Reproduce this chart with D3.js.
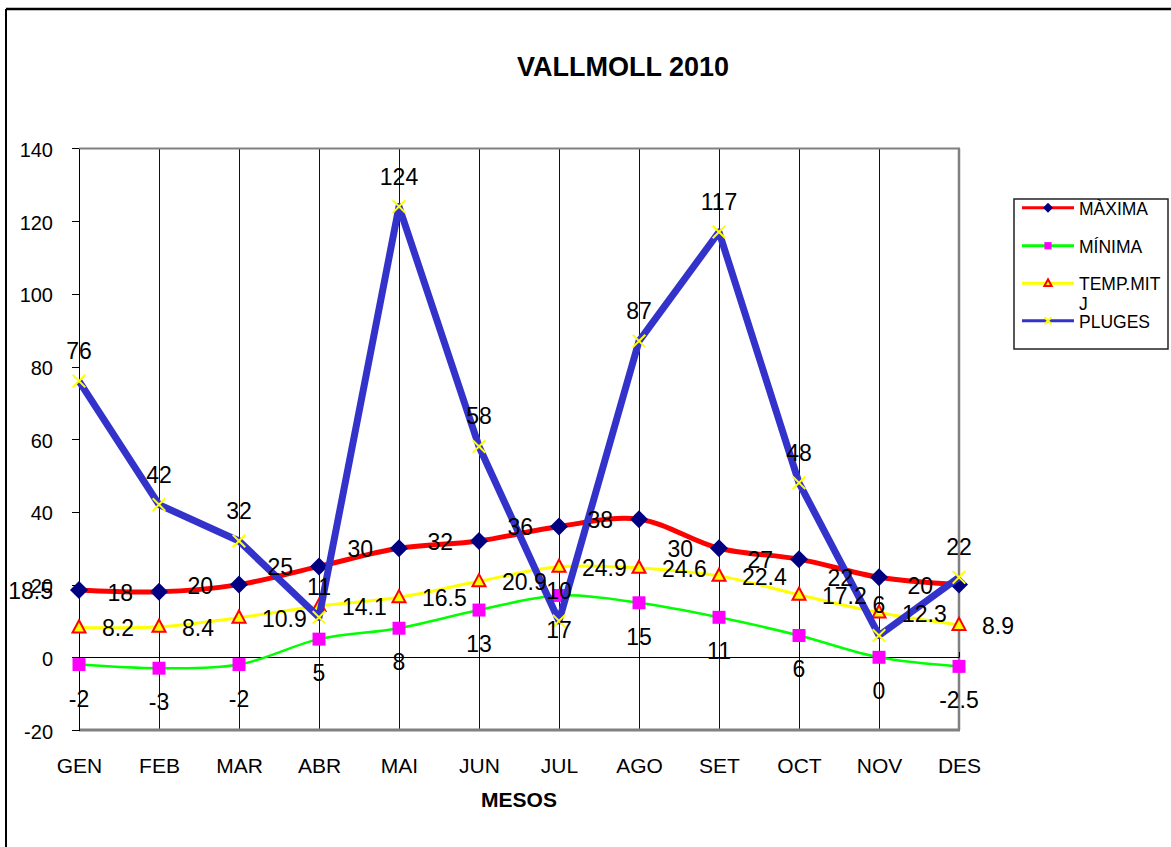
<!DOCTYPE html>
<html>
<head>
<meta charset="utf-8">
<script src="https://cdn.jsdelivr.net/npm/d3@7"></script>
<style>
  body { margin: 0; background: #fff; }
  text { font-family: "Liberation Sans", Arial, sans-serif; }
</style>
</head>
<body>
<svg id="chart" width="1171" height="847"></svg>
<script>
var months = ['GEN','FEB','MAR','ABR','MAI','JUN','JUL','AGO','SET','OCT','NOV','DES'];
var maxima = [18.5, 18, 20, 25, 30, 32, 36, 38, 30, 27, 22, 20];
var minima = [-2, -3, -2, 5, 8, 13, 17, 15, 11, 6, 0, -2.5];
var tempMitj = [8.2, 8.4, 10.9, 14.1, 16.5, 20.9, 24.9, 24.6, 22.4, 17.2, 12.3, 8.9];
var pluges = [76, 42, 32, 11, 124, 58, 10, 87, 117, 48, 6, 22];
var yTicks = [-20, 0, 20, 40, 60, 80, 100, 120, 140];

var width = 1171, height = 847;
var plot = { left: 79, right: 959, top: 148.4, bottom: 730 };

var svg = d3.select('#chart');

var x = d3.scalePoint().domain(months).range([plot.left, plot.right]);
var y = d3.scaleLinear().domain([-20, 140]).range([plot.bottom, plot.top]);

// outer chart border (only top and left visible)
svg.append('line').attr('x1', 6).attr('x2', width).attr('y1', 9).attr('y2', 9)
    .attr('stroke', '#000').attr('stroke-width', 2.5);
svg.append('line').attr('x1', 6).attr('x2', 6).attr('y1', 9).attr('y2', height)
    .attr('stroke', '#000').attr('stroke-width', 2);

// title
svg.append('text')
    .attr('x', 623).attr('y', 76)
    .attr('text-anchor', 'middle')
    .style('font-size', '27px').style('font-weight', 'bold')
    .text('VALLMOLL 2010');

// vertical gridlines
svg.append('g').selectAll('line')
    .data(months.slice(0, -1))
    .enter().append('line')
        .attr('x1', function(d){ return x(d) + 0.5; }).attr('x2', function(d){ return x(d) + 0.5; })
        .attr('y1', y(140)).attr('y2', y(-20))
        .attr('stroke', '#111').attr('stroke-width', 1)
        .attr('shape-rendering', 'crispEdges');

// plot area border (grey)
svg.append('line').attr('x1', plot.left).attr('x2', plot.right + 1).attr('y1', y(140)).attr('y2', y(140))
    .attr('stroke', '#808080').attr('stroke-width', 2);
svg.append('line').attr('x1', plot.right).attr('x2', plot.right).attr('y1', y(140)).attr('y2', y(-20))
    .attr('stroke', '#808080').attr('stroke-width', 2.5);
svg.append('line').attr('x1', plot.left).attr('x2', plot.right + 1).attr('y1', y(-20)).attr('y2', y(-20))
    .attr('stroke', '#808080').attr('stroke-width', 3);

// y axis
var yAxis = svg.append('g')
    .attr('transform', 'translate(' + plot.left + ',0)')
    .call(d3.axisLeft(y).tickValues(yTicks).tickSize(7).tickSizeOuter(0).tickPadding(19)
        .tickFormat(function(d){ return String(d); }));
yAxis.select('.domain').attr('stroke', '#000').attr('shape-rendering', 'crispEdges');
yAxis.selectAll('line').attr('shape-rendering', 'crispEdges');
yAxis.selectAll('text').style('font-size', '20px').attr('dy', '0.4em')
    .style('font-family', '"Liberation Sans", Arial, sans-serif').attr('fill', '#000');

// category axis line at zero
var zeroAxis = svg.append('g')
    .attr('transform', 'translate(0,' + Math.round(y(0)) + ')')
    .call(d3.axisBottom(x).tickSize(-5).tickSizeOuter(0).tickFormat(''));
zeroAxis.select('.domain').attr('stroke', '#000');

// category labels below the plot
var xAxis = svg.append('g')
    .attr('transform', 'translate(0,' + y(-20) + ')')
    .call(d3.axisBottom(x).tickSize(0).tickPadding(28));
xAxis.select('.domain').remove();
xAxis.selectAll('text').style('font-size', '21px')
    .style('font-family', '"Liberation Sans", Arial, sans-serif').attr('fill', '#000');

svg.append('text')
    .attr('x', (plot.left + plot.right) / 2).attr('y', 807)
    .attr('text-anchor', 'middle')
    .style('font-size', '21px').style('font-weight', 'bold')
    .text('MESOS');

// series
var smooth = d3.curveCatmullRom.alpha(0.5);
var series = [
    { name: 'MÀXIMA', values: maxima, color: '#ff0000', width: 5, curve: smooth, marker: 'diamond' },
    { name: 'MÍNIMA', values: minima, color: '#00ff00', width: 2.5, curve: smooth, marker: 'square' },
    { name: 'TEMP.MITJ', values: tempMitj, color: '#ffff00', width: 3, curve: smooth, marker: 'triangle' },
    { name: 'PLUGES', values: pluges, color: '#3333cc', width: 7, curve: d3.curveLinear, marker: 'cross' }
];

function drawMarker(g, type, s) {
    if(type == 'diamond') {
        g.append('path').attr('d', 'M0,' + (-s) + 'L' + s + ',0L0,' + s + 'L' + (-s) + ',0Z')
            .attr('fill', '#000080');
    } else if(type == 'square') {
        g.append('rect').attr('x', -s * 0.72).attr('y', -s * 0.72)
            .attr('width', s * 1.44).attr('height', s * 1.44)
            .attr('fill', '#ff00ff');
    } else if(type == 'triangle') {
        g.append('path').attr('d', 'M0,' + (-s * 0.8) + 'L' + (s * 0.72) + ',' + (s * 0.55) + 'L' + (-s * 0.72) + ',' + (s * 0.55) + 'Z')
            .attr('fill', '#ffff00').attr('stroke', '#ff0000').attr('stroke-width', 2);
    } else {
        var c = s * 0.7;
        g.append('path').attr('d', 'M' + (-c) + ',' + (-c) + 'L' + c + ',' + c + 'M' + (-c) + ',' + c + 'L' + c + ',' + (-c))
            .attr('stroke', '#ffff00').attr('stroke-width', 2).attr('fill', 'none');
    }
}

series.forEach(function(s) {
    var line = d3.line()
        .x(function(d, i){ return x(months[i]); })
        .y(function(d){ return y(d); })
        .curve(s.curve);

    svg.append('path')
        .datum(s.values)
        .attr('d', line)
        .attr('fill', 'none')
        .attr('stroke', s.color)
        .attr('stroke-width', s.width)
        .attr('stroke-linejoin', 'round');

    s.values.forEach(function(v, i) {
        var g = svg.append('g').attr('transform', 'translate(' + x(months[i]) + ',' + y(v) + ')');
        drawMarker(g, s.marker, 9);
    });
});

// data labels
var labelStyle = { left: { dx: -26, dy: 9, anchor: 'end' },
                   below: { dx: 0, dy: 42, anchor: 'middle' },
                   right: { dx: 23, dy: 9, anchor: 'start' },
                   above: { dx: 0, dy: -22, anchor: 'middle' } };
var labelPos = ['left', 'below', 'right', 'above'];

series.forEach(function(s, k) {
    var p = labelStyle[labelPos[k]];
    svg.append('g').selectAll('text')
        .data(s.values)
        .enter().append('text')
            .attr('x', function(d, i){ return x(months[i]) + p.dx; })
            .attr('y', function(d){ return y(d) + p.dy; })
            .attr('text-anchor', p.anchor)
            .style('font-size', '23px')
            .text(function(d){ return d; });
});

// legend
var legend = svg.append('g');
legend.append('rect')
    .attr('x', 1014).attr('y', 199).attr('width', 154).attr('height', 150)
    .attr('fill', '#fff').attr('stroke', '#222').attr('stroke-width', 1.5);

var legendRows = [207.7, 245.7, 283.3, 320.7];
var legendText = [['MÀXIMA'], ['MÍNIMA'], ['TEMP.MIT', 'J'], ['PLUGES']];

series.forEach(function(s, k) {
    var ly = legendRows[k];
    legend.append('line')
        .attr('x1', 1022).attr('x2', 1074).attr('y1', ly).attr('y2', ly)
        .attr('stroke', s.color).attr('stroke-width', 3);
    var g = legend.append('g').attr('transform', 'translate(1048,' + ly + ')');
    drawMarker(g, s.marker, 5);
    legendText[k].forEach(function(t, j) {
        legend.append('text')
            .attr('x', 1079).attr('y', ly + 7 + j * 20)
            .style('font-size', '17.5px')
            .text(t);
    });
});
</script>
</body>
</html>
